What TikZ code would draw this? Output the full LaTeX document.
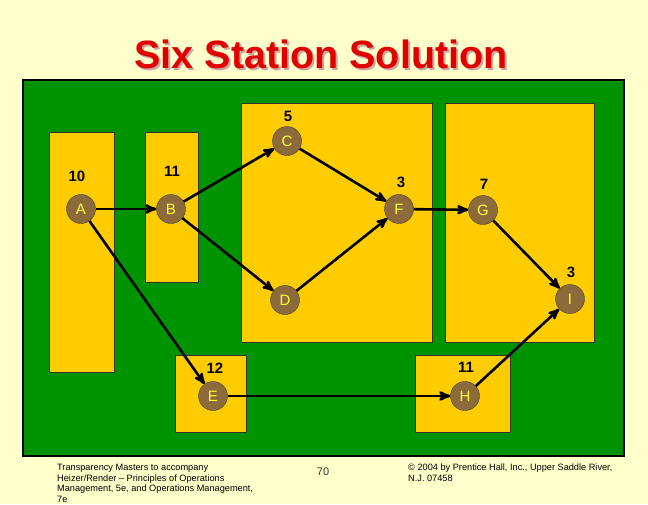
\documentclass[tikz,border=0pt]{standalone}
\usepackage{fontspec}
\setmainfont{Liberation Sans}
\usetikzlibrary{arrows,positioning,calc}
\definecolor{paper}{HTML}{FFFFCC}
\definecolor{field}{HTML}{009300}
\definecolor{zone}{HTML}{FFCC00}
\definecolor{taskbrown}{HTML}{8C6A3A}
\definecolor{taskyellow}{HTML}{FFFF40}
\definecolor{titlered}{HTML}{E00000}
\definecolor{titleshade}{HTML}{C8A8A0}
\tikzset{x=1pt, y=-1pt, % Pixel units, y going down
        task/.style={ % Sets the properties for each task
            circle, draw=black!75, thin,
            fill=taskbrown, text=taskyellow,
            minimum size=29pt, inner sep=0pt,
            font=\fontsize{15}{15}\selectfont},
        time/.style={font=\bfseries\fontsize{15}{15}\selectfont}, % Task times
        station/.style={draw=black!80, thin, fill=zone}, % Station boxes
        foot/.style={anchor=north west, inner sep=0pt, align=left,
            font=\fontsize{9.2}{10.7}\selectfont},
        every edge/.style={ % Sets the properties for each precedence arrow
            draw,
            ->,>=stealth', % Filled arrowheads
            line width=2.6pt}
        }

\begin{document}
\begin{tikzpicture}
    \path[use as bounding box, fill=paper] (0,0) rectangle (648,504);

    % title with its shadow
    \node[anchor=base, text=titleshade, font=\bfseries\fontsize{39.5}{40}\selectfont] (shade) at (323,70) {Six Station Solution};
    \node[anchor=base, text=titlered, font=\bfseries\fontsize{39.5}{40}\selectfont] (title) at (321,68) {Six Station Solution};

    % work area and stations
    \draw[fill=field, line width=2pt] (23,80) rectangle (624,456);
    \draw[station] (49,132) rectangle (114,372);
    \draw[station] (145,132) rectangle (198,282);
    \draw[station] (241,103) rectangle (432,342);
    \draw[station] (445,103) rectangle (594,342);
    \draw[station] (175,355) rectangle (246,432);
    \draw[station] (415,355) rectangle (510,432);

    % tasks
    \node[task] (A) at (81,209) {A};
    \node[task] (B) at (171,209) {B};
    \node[task] (C) at (287,141) {C};
    \node[task] (F) at (399,209) {F};
    \node[task] (G) at (483,210) {G};
    \node[task] (D) at (285,300) {D};
    \node[task] (I) at (570,299) {I};
    \node[task] (E) at (213,396) {E};
    \node[task] (H) at (465,396) {H};

    % task times
    \node[time] (tA) at (77,176) {10};
    \node[time] (tB) at (172,171) {11};
    \node[time] (tC) at (288,116) {5};
    \node[time] (tF) at (401,182) {3};
    \node[time] (tG) at (484,184) {7};
    \node[time] (tI) at (571,272) {3};
    \node[time] (tE) at (215,368) {12};
    \node[time] (tH) at (466,367) {11};

    \path (A) edge (B)
          (A) edge (E)
          (B) edge (C)
          (B) edge (D)
          (C) edge (F)
          (D) edge (F)
          (F) edge (G)
          (G) edge (I)
          (E) edge (H)
          (H) edge (I);

    % footer
    \node[foot] (src) at (57,464) {Transparency Masters to accompany\\Heizer/Render -- Principles of Operations\\Management, 5e, and Operations Management,\\7e};
    \node[font=\fontsize{11}{11}\selectfont, text=black!80] (page) at (323,472) {70};
    \node[foot] (copy) at (408,464) {\textcopyright{} 2004 by Prentice Hall, Inc.,  Upper Saddle River,\\N.J. 07458};
\end{tikzpicture}
\end{document}
